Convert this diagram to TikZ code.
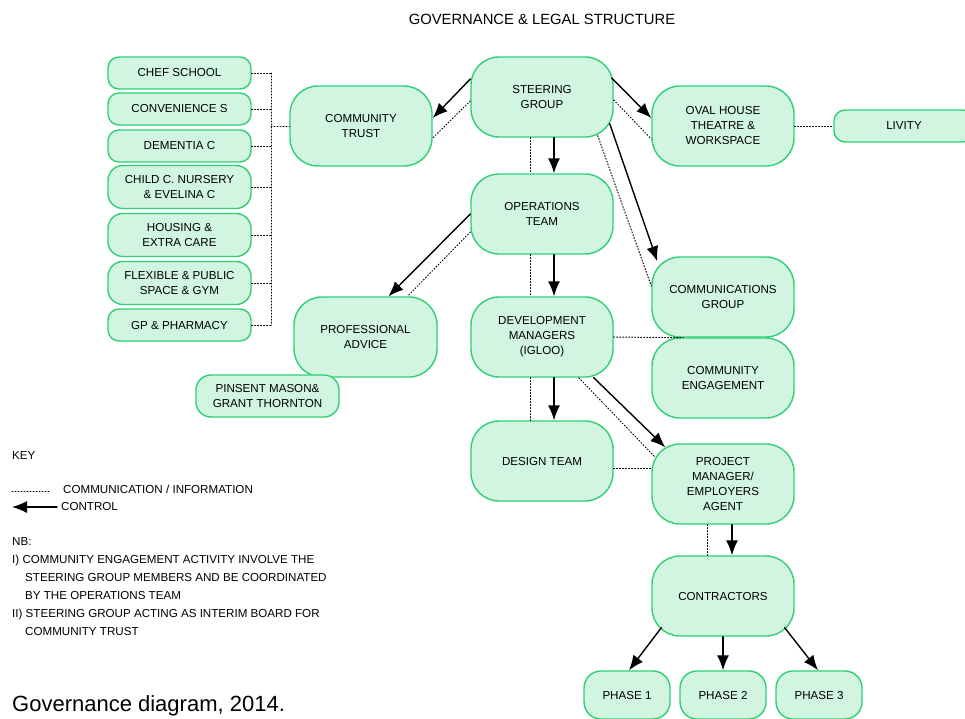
\documentclass[tikz,border=0pt]{standalone}
\usepackage{fontspec}
\setmainfont{Liberation Sans}
\usetikzlibrary{arrows.meta}
\definecolor{boxfill}{RGB}{209,245,224}
\definecolor{boxline}{RGB}{46,208,116}

\begin{document}
\begin{tikzpicture}[x=1pt, y=-1pt,
                    line cap=round, line join=round,
                    box/.style={draw=boxline, fill=boxfill, line width=1.4pt, align=center,
                                font=\fontsize{11.6}{15}\selectfont},
                    bigbox/.style={box, rounded corners=28pt, minimum width=142pt, minimum height=80pt},
                    sidebox/.style={box, rounded corners=11pt, minimum width=143pt, minimum height=32pt},
                    tallbox/.style={sidebox, rounded corners=15pt, minimum height=43pt},
                    phasebox/.style={box, rounded corners=17pt, minimum width=86pt, minimum height=48pt},
                    control/.style={black, line width=1.4pt, -{Latex[length=15pt,width=12pt]}},
                    info/.style={black, line width=1pt, dotted},
                    keytext/.style={anchor=west, inner sep=0pt, text height=7.5pt, text depth=0pt,
                                    font=\fontsize{11.6}{13}\selectfont}]
  \useasboundingbox (0,0) rectangle (965,718);

  \node[anchor=base, font=\fontsize{14.8}{16}\selectfont] (title) at (542,24)
    {GOVERNANCE \& LEGAL STRUCTURE};

  % main boxes
  \node[bigbox] (steer)  at (542,97)  {STEERING\\GROUP};
  \node[bigbox] (trust)  at (361,126) {COMMUNITY\\TRUST};
  \node[bigbox] (oval)   at (723,126) {OVAL HOUSE\\THEATRE \&\\WORKSPACE};
  \node[bigbox] (ops)    at (542,214) {OPERATIONS\\TEAM};
  \node[bigbox] (dev)    at (542,337) {DEVELOPMENT\\MANAGERS\\(IGLOO)};
  \node[bigbox] (design) at (542,461) {DESIGN TEAM};
  \node[bigbox] (comms)  at (723,297) {COMMUNICATIONS\\GROUP};
  \node[bigbox] (engage) at (723,378) {COMMUNITY\\ENGAGEMENT};
  \node[bigbox] (pm)     at (723,484) {PROJECT\\MANAGER/\\EMPLOYERS\\AGENT};
  \node[bigbox] (contr)  at (723,596) {CONTRACTORS};
  \node[bigbox, minimum width=143pt] (prof) at (365.5,337) {PROFESSIONAL\\ADVICE};
  \node[tallbox, minimum height=42pt] (pinsent) at (267.5,396) {PINSENT MASON\&\\GRANT THORNTON};
  \node[sidebox, minimum width=140pt] (livity) at (904,126) {LIVITY};

  % community trust members
  \node[sidebox] (chef)     at (179.5,73)  {CHEF SCHOOL};
  \node[sidebox] (conv)     at (179.5,109) {CONVENIENCE S};
  \node[sidebox] (dementia) at (179.5,146) {DEMENTIA C};
  \node[tallbox] (child)    at (179.5,187) {CHILD C. NURSERY\\\& EVELINA C};
  \node[tallbox] (housing)  at (179.5,235) {HOUSING \&\\EXTRA CARE};
  \node[tallbox] (flex)     at (179.5,283) {FLEXIBLE \& PUBLIC\\SPACE \& GYM};
  \node[sidebox] (gp)       at (179.5,325) {GP \& PHARMACY};

  % phases
  \node[phasebox] (phaseA) at (627,695) {PHASE 1};
  \node[phasebox] (phaseB) at (723,695) {PHASE 2};
  \node[phasebox] (phaseC) at (819,695) {PHASE 3};

  % dotted bus to community trust
  \coordinate (bus) at (271,126);
  \foreach \b in {chef,conv,dementia,child,housing,flex,gp}
    \draw[info] (\b.east) -- (\b.east -| bus);
  \draw[info] (chef.east -| bus) -- (gp.east -| bus);
  \draw[info] (bus) -- (trust.west);
  \draw[info] (oval.east) -- (livity.west);

  % steering group links
  \draw[control] ([yshift=18pt]steer.west) -- ([yshift=8pt]trust.east);
  \draw[info] ([yshift=-4pt]steer.west) -- ([yshift=-12pt]trust.east);
  \draw[control] ([xshift=-2pt,yshift=19pt]steer.east) -- ([yshift=8pt]oval.west);
  \draw[info] ([yshift=-3pt]steer.east) -- ([yshift=-13pt]oval.west);
  \draw[control] ([xshift=-4pt,yshift=14pt]steer.south east) -- ([xshift=6pt,yshift=-5pt]comms.north west);
  \draw[info] ([xshift=-16pt,yshift=2pt]steer.south east) -- ([yshift=11pt]comms.west);

  % vertical chain
  \foreach \u/\v in {steer/ops, ops/dev, dev/design}{
    \draw[control] ([xshift=12pt]\u.south) -- ([xshift=12pt]\v.north);
    \draw[info] ([xshift=-12pt]\u.south) -- ([xshift=-12pt]\v.north);
  }

  % operations to advice
  \draw[control] (ops.west) -- ([xshift=23pt]prof.north);
  \draw[info] ([yshift=-18pt]ops.west) -- ([xshift=42pt]prof.north);

  % development links
  \coordinate (meet) at ([xshift=-40pt]comms.south);
  \draw[info] (dev.east) -- (meet);
  \draw[control] ([xshift=-20pt]dev.south east) -- ([xshift=14pt,yshift=-4pt]pm.north west);
  \draw[info] ([xshift=-35pt]dev.south east) -- ([xshift=3pt,yshift=-13pt]pm.north west);
  \draw[info] ([yshift=-7pt]design.east) -- ([yshift=16pt]pm.west);

  % contractors
  \draw[control] ([xshift=9pt]pm.south) -- ([xshift=9pt]contr.north);
  \draw[info] ([xshift=-16pt]pm.south) -- ([xshift=-16pt]contr.north);
  \draw[control] ([xshift=10pt,yshift=9pt]contr.south west) -- ([xshift=2pt]phaseA.north);
  \draw[control] (contr.south) -- (phaseB.north);
  \draw[control] ([xshift=-10pt,yshift=9pt]contr.south east) -- ([xshift=-1pt]phaseC.north);

  % key
  \node[keytext] (keyhead) at (12,456) {KEY};
  \coordinate (infoA) at (12,491);
  \coordinate (infoB) at (50,491);
  \draw[info] (infoA) -- (infoB);
  \node[keytext] (infolbl) at (63,490) {COMMUNICATION / INFORMATION};
  \coordinate (ctrlA) at (57,507);
  \coordinate (ctrlB) at (12,507);
  \draw[control] (ctrlA) -- (ctrlB);
  \node[keytext] (ctrllbl) at (61,507) {CONTROL};

  % notes
  \foreach \txt/\xx/\yy [count=\i] in {
      NB:/12/542,
      I) COMMUNITY ENGAGEMENT ACTIVITY INVOLVE THE/12/560,
      STEERING GROUP MEMBERS AND BE COORDINATED/25/578,
      BY THE OPERATIONS TEAM/25/596,
      II) STEERING GROUP ACTING AS INTERIM BOARD FOR/12/614,
      COMMUNITY TRUST/25/632}
    \node[keytext] (nb\i) at (\xx,\yy) {\txt};

  \node[anchor=base west, inner sep=0pt, font=\fontsize{22}{24}\selectfont] (caption) at (12,711)
    {Governance diagram, 2014.};
\end{tikzpicture}
\end{document}
